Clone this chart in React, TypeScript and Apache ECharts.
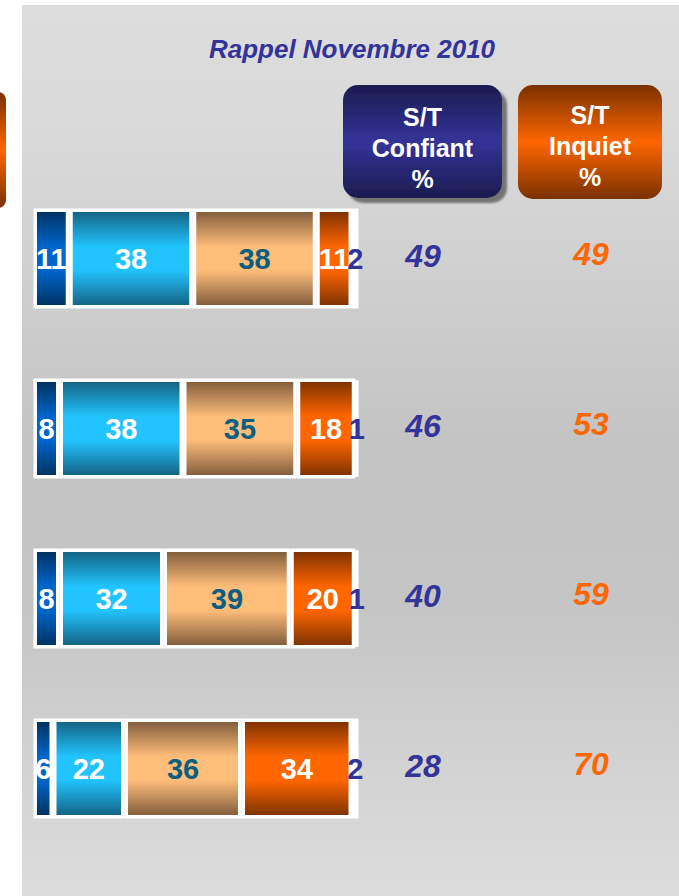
import React, { useEffect, useRef } from "react";
import * as echarts from "echarts";

const rows = ["Ligne 1", "Ligne 2", "Ligne 3", "Ligne 4"];
const tresConfiant = [11, 8, 8, 6];
const plutotConfiant = [38, 38, 32, 22];
const plutotInquiet = [38, 35, 39, 36];
const tresInquiet = [11, 18, 20, 34];
const nsp = [2, 1, 1, 2];
const stColumns = ["S/T Confiant", "S/T Inquiet"];
const stConfiant = [49, 46, 40, 28];
const stInquiet = [49, 53, 59, 70];

const FONT = "'Liberation Sans', Arial, Helvetica, sans-serif";

function vg(edge: string, mid: string) {
  return new echarts.graphic.LinearGradient(0, 0, 0, 1, [
    { offset: 0, color: edge },
    { offset: 0.38, color: mid },
    { offset: 0.62, color: mid },
    { offset: 1, color: edge },
  ]);
}

function vg3(edge: string, mid: string) {
  return new echarts.graphic.LinearGradient(0, 0, 0, 1, [
    { offset: 0, color: edge },
    { offset: 0.5, color: mid },
    { offset: 1, color: edge },
  ]);
}

export default function App() {
  const ref = useRef<HTMLDivElement>(null);
  useEffect(() => {
    document.body.style.margin = "0";
    document.body.style.background = "#ffffff";
    const chart = echarts.init(ref.current!, null, { renderer: "svg" });

    const segLabel = (color: string) => ({
      show: true,
      position: "inside",
      color,
      fontSize: 29,
      fontWeight: "bold",
      fontFamily: FONT,
    });

    const barSeries = (name: string, data: number[], edge: string, mid: string, labelColor: string) => ({
      type: "bar",
      name,
      stack: "total",
      xAxisIndex: 0,
      yAxisIndex: 0,
      barWidth: 100,
      data,
      itemStyle: { color: vg(edge, mid), borderColor: "#ffffff", borderWidth: 3.5 },
      label: segLabel(labelColor),
      z: 3,
    });

    const stSeries = (name: string, values: number[], col: string, color: string, dy: number) => ({
      type: "scatter",
      name,
      xAxisIndex: 1,
      yAxisIndex: 1,
      symbol: "circle",
      symbolSize: 1,
      itemStyle: { color: "rgba(0,0,0,0)", opacity: 1 },
      data: values.map((v, i) => [col, rows[i], v]),
      encode: { x: 0, y: 1 },
      label: {
        show: true,
        position: "inside",
        offset: [0, dy],
        formatter: (p: any) => String(p.value[2]),
        color,
        opacity: 1,
        fontSize: 32,
        fontWeight: "bold",
        fontStyle: "italic",
        fontFamily: FONT,
      },
      z: 4,
    });

    chart.setOption({
      animation: false,
      grid: [
        { left: 33.5, width: 325, top: 173.5, height: 680 },
        { left: 339, width: 336, top: 173.5, height: 680 },
      ],
      xAxis: [
        { type: "value", gridIndex: 0, min: 0, max: 100, show: false },
        { type: "category", gridIndex: 1, data: stColumns, show: false },
      ],
      yAxis: [
        { type: "category", gridIndex: 0, data: rows, inverse: true, show: false },
        { type: "category", gridIndex: 1, data: rows, inverse: true, show: false },
      ],
      graphic: [
        {
          type: "rect",
          z: -10,
          shape: { x: 22, y: 5, width: 657, height: 891 },
          style: {
            fill: new echarts.graphic.LinearGradient(0, 0, 0, 1, [
              { offset: 0, color: "#dddddd" },
              { offset: 0.15, color: "#d9d9d9" },
              { offset: 0.5, color: "#c3c3c3" },
              { offset: 0.68, color: "#c5c5c5" },
              { offset: 0.86, color: "#d3d3d3" },
              { offset: 1, color: "#dcdcdc" },
            ]),
          },
        },
        {
          type: "rect",
          z: -5,
          shape: { x: -12, y: 92, width: 18, height: 116, r: 8 },
          style: { fill: vg3("#7a3000", "#ff6600") },
        },
        {
          type: "rect",
          z: -5,
          shape: { x: 343, y: 85, width: 159, height: 113, r: 15 },
          style: {
            fill: vg3("#1c1c50", "#333399"),
            shadowColor: "rgba(100,100,100,0.85)",
            shadowOffsetX: 5,
            shadowOffsetY: 5,
            shadowBlur: 2,
          },
        },
        {
          type: "rect",
          z: -5,
          shape: { x: 518, y: 85, width: 144, height: 114, r: 15 },
          style: { fill: vg3("#7a3000", "#ff6600") },
        },
        {
          type: "text",
          z: 5,
          style: {
            text: "Rappel Novembre 2010",
            x: 352,
            y: 48.5,
            fill: "#333399",
            font: `italic bold 26px ${FONT}`,
            textAlign: "center",
            textVerticalAlign: "middle",
            align: "center",
            verticalAlign: "middle",
          },
        },
        {
          type: "text",
          z: 5,
          style: {
            text: "S/T\nConfiant\n%",
            x: 422.5,
            y: 148,
            fill: "#ffffff",
            font: `bold 25px ${FONT}`,
            lineHeight: 31,
            textAlign: "center",
            textVerticalAlign: "middle",
            align: "center",
            verticalAlign: "middle",
          },
        },
        {
          type: "text",
          z: 5,
          style: {
            text: "S/T\nInquiet\n%",
            x: 590,
            y: 146,
            fill: "#ffffff",
            font: `bold 25px ${FONT}`,
            lineHeight: 31,
            textAlign: "center",
            textVerticalAlign: "middle",
            align: "center",
            verticalAlign: "middle",
          },
        },
      ],
      series: [
        barSeries("Très confiant", tresConfiant, "#00305f", "#0066cc", "#ffffff"),
        barSeries("Plutôt confiant", plutotConfiant, "#136080", "#22c4ff", "#ffffff"),
        barSeries("Plutôt inquiet", plutotInquiet, "#7d5a3a", "#ffbd7a", "#0b5e7e"),
        barSeries("Très inquiet", tresInquiet, "#7a3000", "#ff6600", "#ffffff"),
        barSeries("NSP", nsp, "#555555", "#a0a0a0", "#333399"),
        stSeries("S/T Confiant", stConfiant, stColumns[0], "#333399", -3),
        stSeries("S/T Inquiet", stInquiet, stColumns[1], "#ff6600", -5),
      ],
    });
    return () => chart.dispose();
  }, []);
  return <div ref={ref} style={{ width: 679, height: 896 }} />;
}
